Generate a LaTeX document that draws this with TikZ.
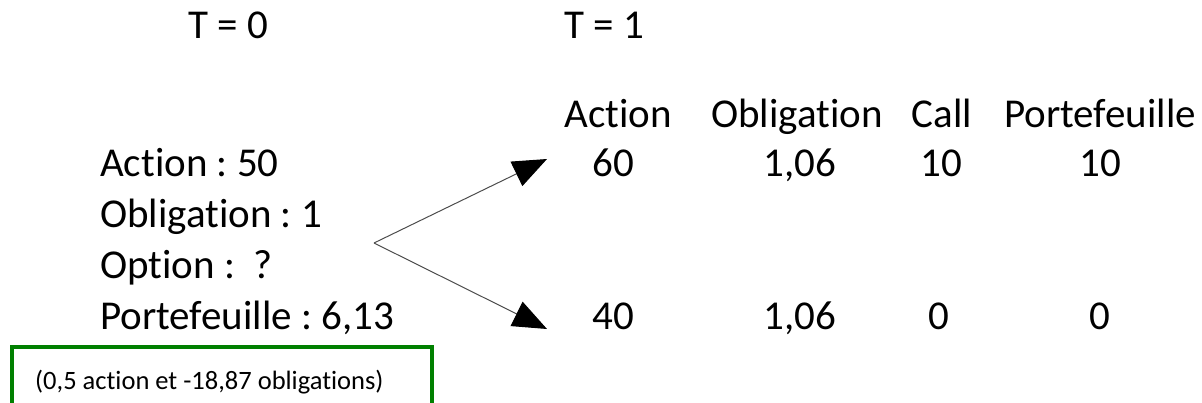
\documentclass[tikz,border=0pt]{standalone}
\usepackage{fontspec}
\setmainfont{Carlito}[Ligatures={NoCommon,NoRare}]
\usetikzlibrary{arrows.meta}
\begin{document}
\frenchspacing
\begin{tikzpicture}[x=1pt,y=-1pt,
  big/.style={font=\fontsize{41}{49}\selectfont, inner sep=0pt, anchor=base},
  lft/.style={big, anchor=base west},
  branch/.style={draw=black!70, line width=1pt, -{Triangle[length=34pt,width=27pt,black]}},
  gbox/.style={draw={rgb,255:red,0;green,128;blue,0}, line width=4pt}]
\useasboundingbox (0,0) rectangle (1202,402);
\node[big] (t0) at (228,38) {T = 0};
\node[big] (t1) at (604,38) {T = 1};
\node[big] (hA) at (618,127) {Action};
\node[big] (hO) at (797,127) {Obligation};
\node[big] (hC) at (942,127) {Call};
\node[big] (hP) at (1100,127) {Portefeuille};
\node[big] (a1) at (613,176) {60};
\node[big] (o1) at (800,176) {1,06};
\node[big] (c1) at (941,176) {10};
\node[big] (p1) at (1100,176) {10};
\node[big] (a2) at (613,329) {40};
\node[big] (o2) at (800,329) {1,06};
\node[big] (c2) at (939,329) {0};
\node[big] (p2) at (1100,329) {0};
\node[lft] (l1) at (100,176) {Action : 50};
\node[lft] (l2) at (100,227) {Obligation : 1};
\node[lft] (l3) at (100,278) {Option :\ \ ?};
\node[lft] (l4) at (100,329) {Portefeuille : 6,13};
\coordinate (fork) at (374,243);
\coordinate (up) at (547,159);
\coordinate (down) at (547,329);
\draw[branch] (fork) -- (up);
\draw[branch] (fork) -- (down);
\begin{scope}
\clip (0,0) rectangle (1202,402);
\draw[gbox] (12,347) rectangle (432,430);
\end{scope}
\node[font=\fontsize{26.5}{32}\selectfont, inner sep=0pt, anchor=base west] (note) at (35,389) {(0,5 action et -18,87 obligations)};
\end{tikzpicture}
\end{document}
